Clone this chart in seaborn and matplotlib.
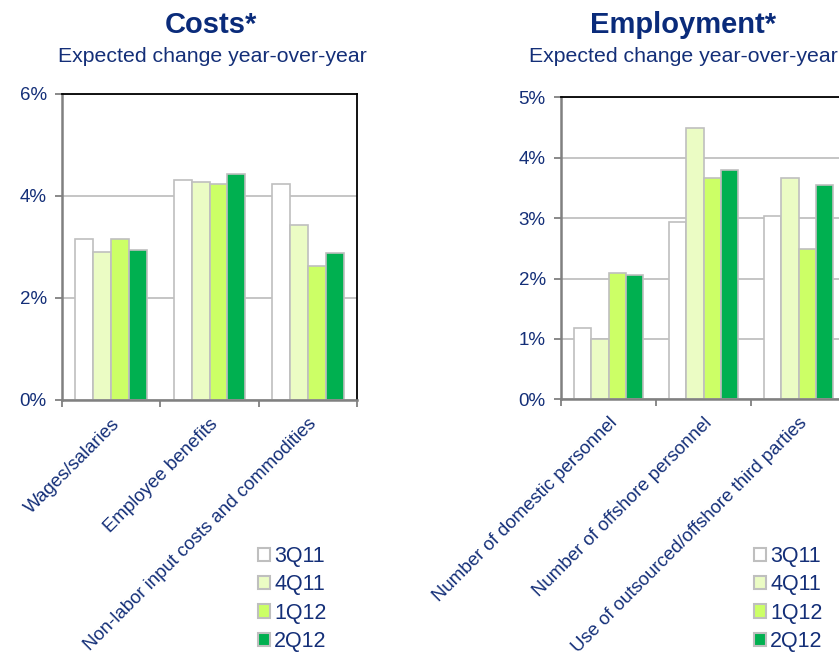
import matplotlib
matplotlib.use("Agg")
import matplotlib.pyplot as plt
import matplotlib.patches as mpatches
import pandas as pd
import seaborn as sns

# Survey quarters and colours
quarters = ["3Q11", "4Q11", "1Q12", "2Q12"]
quarter_colors = ["#FFFFFF", "#EBFCC4", "#CCFF66", "#00B050"]

# Costs: expected change year-over-year (%)
cost_categories = ["Wages/salaries", "Employee benefits",
                   "Non-labor input costs and commodities"]
cost_3q11 = [3.15, 4.31, 4.23]
cost_4q11 = [2.90, 4.27, 3.44]
cost_1q12 = [3.15, 4.24, 2.63]
cost_2q12 = [2.94, 4.43, 2.89]

# Employment: expected change year-over-year (%)
emp_categories = ["Number of domestic personnel", "Number of offshore personnel",
                  "Use of outsourced/offshore third parties"]
emp_3q11 = [1.18, 2.94, 3.04]
emp_4q11 = [1.00, 4.50, 3.67]
emp_1q12 = [2.09, 3.67, 2.49]
emp_2q12 = [2.05, 3.79, 3.55]

cost_ticks = [0, 2, 4, 6]
emp_ticks = [0, 1, 2, 3, 4, 5]

NAVY = "#142F78"
EDGE = "#BFBFBF"


def long_frame(categories, series):
    rows = []
    for q, vals in zip(quarters, series):
        for c, v in zip(categories, vals):
            rows.append({"category": c, "quarter": q, "value": v})
    return pd.DataFrame(rows)


sns.set_theme(style="white")
plt.rcParams["font.family"] = ["Liberation Sans", "DejaVu Sans"]

fig = plt.figure(figsize=(8.39, 6.52), dpi=100)
W, H = 839, 652


def px_axes(x0, y_top, x1, y_bot):
    return fig.add_axes([x0 / W, 1 - y_bot / H, (x1 - x0) / W, (y_bot - y_top) / H])


ax1 = px_axes(62, 94, 357, 400)
ax2 = px_axes(561, 97.3, 846, 399.3)


def draw_panel(ax, categories, series, ticks):
    df = long_frame(categories, series)
    sns.barplot(data=df, x="category", y="value", hue="quarter",
                order=categories, hue_order=quarters,
                palette=quarter_colors, width=0.73,
                edgecolor=EDGE, linewidth=1.2, saturation=1,
                legend=False, ax=ax)
    ax.set_xlim(-0.5, len(categories) - 0.5)
    ax.set_ylim(ticks[0], ticks[-1])
    ax.set_yticks(ticks)
    ax.set_yticklabels([f"{t}%" for t in ticks])
    ax.set_axisbelow(True)
    ax.yaxis.grid(True, color="#C0C0C0", linewidth=1.3)
    ax.xaxis.grid(False)
    ax.set_xlabel("")
    ax.set_ylabel("")

    ax.set_xticks(range(len(categories)))
    ax.set_xticklabels(categories, rotation=45, ha="right",
                       rotation_mode="anchor", fontsize=13.4, color=NAVY)
    ax.set_xticks([i - 0.5 for i in range(len(categories) + 1)], minor=True)
    ax.tick_params(axis="x", which="major", length=0, pad=11)
    ax.tick_params(axis="x", which="minor", length=5, width=1.3,
                   color="#808080", direction="out", bottom=True)
    ax.tick_params(axis="y", length=5, width=1.3, color="#808080",
                   direction="out", left=True, labelsize=13.5,
                   labelcolor=NAVY, pad=6)

    for side in ("left", "bottom"):
        ax.spines[side].set_color("#808080")
        ax.spines[side].set_linewidth(1.8)
    for side in ("top", "right"):
        ax.spines[side].set_color("#000000")
        ax.spines[side].set_linewidth(1.3)


draw_panel(ax1, cost_categories, [cost_3q11, cost_4q11, cost_1q12, cost_2q12], cost_ticks)
draw_panel(ax2, emp_categories, [emp_3q11, emp_4q11, emp_1q12, emp_2q12], emp_ticks)

# Titles
fig.text(211 / W, 1 - 25 / H, "Costs*", ha="center", va="center",
         fontsize=21, fontweight="bold", color="#0A2B7A")
fig.text(212 / W, 1 - 57 / H, "Expected change year-over-year", ha="center",
         va="center", fontsize=15.3, color=NAVY)
fig.text(683 / W, 1 - 25 / H, "Employment*", ha="center", va="center",
         fontsize=21, fontweight="bold", color="#0A2B7A")
fig.text(683 / W, 1 - 57 / H, "Expected change year-over-year", ha="center",
         va="center", fontsize=15.3, color=NAVY)

# Legends
handles = [mpatches.Patch(facecolor=c, edgecolor=EDGE, linewidth=1.5, label=q)
           for q, c in zip(quarters, quarter_colors)]
for lx in (258, 754):
    leg = fig.legend(handles=handles, loc="upper left",
                     bbox_to_anchor=(lx / W, 1 - 546 / H), frameon=False,
                     fontsize=15.5, handlelength=0.56, handleheight=0.56,
                     handletextpad=0.2, labelspacing=0.34, borderpad=0,
                     borderaxespad=0)
    for t in leg.get_texts():
        t.set_color(NAVY)

fig.savefig("out.png", dpi=100)
